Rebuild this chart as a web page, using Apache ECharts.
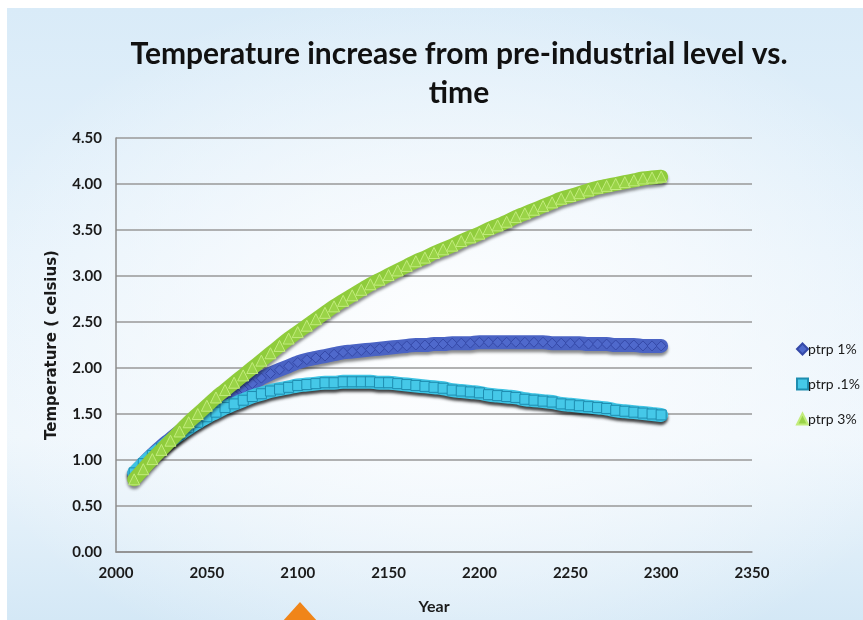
<!DOCTYPE html>
<html>
<head>
<meta charset="utf-8">
<script src="https://cdn.jsdelivr.net/npm/echarts@6/dist/echarts.min.js"></script>
<style>
  html, body { margin: 0; padding: 0; background: #ffffff; overflow: hidden; }
  #wrap { position: absolute; left: 0; top: 0; width: 863px; height: 620px; background: #ffffff; }
  #slide {
    position: absolute; left: 7px; top: 8px; width: 856px; height: 612px;
    background:
      radial-gradient(ellipse 60% 58% at 52% 54%, rgba(255,255,255,0.95) 0%, rgba(250,252,254,0.7) 45%, rgba(255,255,255,0) 100%),
      linear-gradient(180deg, #d9ebf8 0%, #e6f2fb 40%, #eef6fc 70%, #d4e8f6 100%);
  }
  #chart { position: absolute; left: 0; top: 0; width: 863px; height: 620px; }
</style>
</head>
<body>
<div id="wrap">
  <div id="slide"></div>
  <div id="chart"></div>
</div>
<script>
// Simulated warming above pre-industrial level, sampled every 5 years
const years = [
  2010, 2015, 2020, 2025, 2030, 2035, 2040, 2045, 2050, 2055,
  2060, 2065, 2070, 2075, 2080, 2085, 2090, 2095, 2100, 2105,
  2110, 2115, 2120, 2125, 2130, 2135, 2140, 2145, 2150, 2155,
  2160, 2165, 2170, 2175, 2180, 2185, 2190, 2195, 2200, 2205,
  2210, 2215, 2220, 2225, 2230, 2235, 2240, 2245, 2250, 2255,
  2260, 2265, 2270, 2275, 2280, 2285, 2290, 2295, 2300
];

const ptrp1 = [
  0.85, 0.96, 1.06, 1.15, 1.23, 1.31, 1.38, 1.44, 1.50, 1.57,
  1.64, 1.71, 1.77, 1.83, 1.89, 1.94, 1.98, 2.02, 2.06, 2.09,
  2.11, 2.13, 2.15, 2.17, 2.18, 2.19, 2.20, 2.21, 2.22, 2.23,
  2.24, 2.25, 2.25, 2.26, 2.26, 2.27, 2.27, 2.27, 2.28, 2.28,
  2.28, 2.28, 2.28, 2.28, 2.28, 2.28, 2.27, 2.27, 2.27, 2.27,
  2.26, 2.26, 2.26, 2.25, 2.25, 2.25, 2.24, 2.24, 2.24
];

const ptrp01 = [
  0.86, 0.96, 1.05, 1.13, 1.21, 1.28, 1.35, 1.41, 1.47, 1.52,
  1.57, 1.61, 1.65, 1.69, 1.72, 1.75, 1.77, 1.79, 1.81, 1.82,
  1.83, 1.84, 1.84, 1.85, 1.85, 1.85, 1.85, 1.84, 1.84, 1.83,
  1.82, 1.81, 1.80, 1.79, 1.78, 1.76, 1.75, 1.74, 1.73, 1.71,
  1.70, 1.69, 1.68, 1.66, 1.65, 1.64, 1.63, 1.61, 1.60, 1.59,
  1.58, 1.57, 1.56, 1.54, 1.53, 1.52, 1.51, 1.50, 1.49
];

const ptrp3 = [
  0.79, 0.90, 1.01, 1.11, 1.21, 1.31, 1.41, 1.50, 1.59, 1.68,
  1.76, 1.84, 1.92, 2.00, 2.08, 2.16, 2.24, 2.32, 2.39, 2.46,
  2.53, 2.60, 2.67, 2.73, 2.79, 2.85, 2.91, 2.96, 3.01, 3.06,
  3.11, 3.16, 3.20, 3.25, 3.29, 3.33, 3.38, 3.42, 3.46, 3.51,
  3.55, 3.59, 3.64, 3.68, 3.72, 3.76, 3.80, 3.84, 3.87, 3.90,
  3.93, 3.96, 3.98, 4.00, 4.02, 4.04, 4.06, 4.07, 4.08
];

const seriesNames = ['ptrp 1%', 'ptrp .1%', 'ptrp 3%'];
const yTicks = ['0.00', '0.50', '1.00', '1.50', '2.00', '2.50', '3.00', '3.50', '4.00', '4.50'];

function pairs(values) {
  return years.map((y, i) => [y, values[i]]);
}

const textFont = 'Lato, "Open Sans", sans-serif';

// Each scenario is a thick shadowed band with its marker shapes stamped along it
function band(name, values, color, markColor, edge, symbol, size, z, shadowAlpha) {
  return {
    name: name,
    type: 'line',
    z: z,
    data: pairs(values),
    smooth: true,
    symbol: symbol,
    symbolSize: size,
    showAllSymbol: true,
    lineStyle: {
      color: color,
      width: 14,
      cap: 'round',
      shadowColor: 'rgba(0,0,0,' + shadowAlpha + ')',
      shadowBlur: 3,
      shadowOffsetY: 3
    },
    itemStyle: { color: markColor, borderColor: edge, borderWidth: 1 },
    emphasis: { disabled: true },
    animation: false
  };
}

const chart = echarts.init(document.getElementById('chart'), null, { renderer: 'canvas' });

chart.setOption({
  backgroundColor: 'transparent',
  animation: false,
  title: {
    text: 'Temperature increase from pre-industrial level vs.\ntime',
    left: 454,
    textAlign: 'center',
    top: 30,
    textStyle: {
      fontFamily: textFont,
      fontWeight: 'bold',
      fontSize: 30,
      lineHeight: 39,
      color: '#111111'
    }
  },
  legend: {
    orient: 'vertical',
    left: 791,
    top: 337,
    itemGap: 21,
    itemWidth: 11,
    itemHeight: 11,
    textStyle: { fontFamily: textFont, fontSize: 14, color: '#1a1a1a', padding: [0, 0, 0, -5] },
    data: [
      { name: seriesNames[0], icon: 'diamond' },
      { name: seriesNames[1], icon: 'rect' },
      { name: seriesNames[2], icon: 'triangle' }
    ]
  },
  grid: { left: 116, right: 111, top: 138, bottom: 64, containLabel: false },
  xAxis: {
    type: 'value',
    min: 2000,
    max: 2350,
    interval: 50,
    name: 'Year',
    nameLocation: 'middle',
    nameGap: 47,
    nameTextStyle: { fontFamily: textFont, fontWeight: 'bold', fontSize: 16, color: '#1a1a1a' },
    axisLine: { show: true, lineStyle: { color: '#8c8c8c', width: 1.5 } },
    axisTick: { show: false },
    splitLine: { show: false },
    axisLabel: {
      margin: 14,
      fontFamily: textFont,
      fontWeight: 'bold',
      fontSize: 15,
      color: '#1a1a1a',
      formatter: function (v) { return String(v); }
    }
  },
  yAxis: {
    type: 'value',
    min: 0,
    max: 4.5,
    interval: 0.5,
    name: 'Temperature ( celsius)',
    nameLocation: 'middle',
    nameGap: 56,
    nameRotate: 90,
    nameTextStyle: { fontFamily: '"DejaVu Sans", sans-serif', fontWeight: 'bold', fontSize: 15, color: '#1a1a1a' },
    axisLine: { show: true, lineStyle: { color: '#8c8c8c', width: 1.5 } },
    axisTick: { show: false },
    splitLine: { show: true, lineStyle: { color: '#999999', width: 1.5 } },
    axisLabel: {
      margin: 14,
      fontFamily: textFont,
      fontWeight: 'bold',
      fontSize: 15,
      color: '#1a1a1a',
      formatter: function (v) { return yTicks[Math.round(v / 0.5)]; }
    }
  },
  graphic: [
    {
      type: 'polygon',
      shape: { points: [[300, 602], [318, 622], [282, 622]] },
      style: { fill: '#f08519' },
      silent: true
    }
  ],
  series: [
    band(seriesNames[0], ptrp1, '#4a63c4', '#4f69cc', '#3549a8', 'diamond', 10, 2, 0.45),
    band(seriesNames[1], ptrp01, '#3ec3e3', '#45c8e8', '#1f8db0', 'rect', 10, 3, 0.75),
    band(seriesNames[2], ptrp3, '#8fcc3c', '#9ad448', '#c2ec7c', 'triangle', 11, 4, 0.45)
  ]
});
</script>
</body>
</html>
